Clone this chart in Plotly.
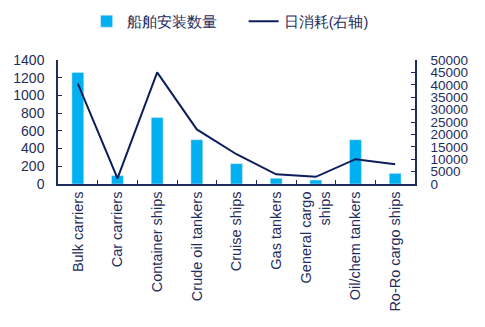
import plotly.graph_objects as go

categories = ["Bulk carriers", "Car carriers", "Container ships", "Crude oil tankers",
              "Cruise ships", "Gas tankers", "General cargo<br>ships", "Oil/chem tankers",
              "Ro-Ro cargo ships"]
installs = [1260, 95, 750, 500, 230, 65, 45, 500, 120]
daily_use = [40500, 2300, 45000, 22000, 12000, 3900, 2900, 10000, 8000]
left_ticks = [0, 200, 400, 600, 800, 1000, 1200, 1400]
right_ticks = [0, 5000, 10000, 15000, 20000, 25000, 30000, 35000, 40000, 45000, 50000]

navy = "#1F2D5C"
fig = go.Figure()
fig.add_trace(go.Bar(x=categories, y=installs, name="船舶安装数量",
                     marker_color="#00B0F0", width=0.3))
fig.add_trace(go.Scatter(x=categories, y=daily_use, name="日消耗(右轴)", yaxis="y2",
                         mode="lines", line=dict(color="#0C1F5C", width=2)))

fig.update_layout(
    width=485, height=327,
    margin=dict(l=58, r=70, t=60, b=143),
    paper_bgcolor="white", plot_bgcolor="white",
    font=dict(family="Liberation Sans, Arial, sans-serif", size=13, color=navy),
    showlegend=True,
    legend=dict(orientation="h", x=0.52, xanchor="center", yref="container", y=0.935,
                yanchor="middle", font=dict(size=14.5, color=navy), traceorder="normal",
                entrywidth=112, entrywidthmode="pixels"),
    bargap=0.7,
    xaxis=dict(type="category", showline=True, linecolor=navy, linewidth=1.5,
               ticks="inside", tickson="boundaries", ticklen=4, tickcolor=navy,
               tickangle=-90, showgrid=False, tickfont=dict(size=14.5, color=navy)),
    yaxis=dict(range=[0, 1400], tickvals=left_ticks, showline=True, linecolor=navy,
               linewidth=1.5, ticks="inside", ticklen=4, tickcolor=navy, showgrid=False,
               zeroline=False, ticklabelstandoff=9,
               tickfont=dict(size=14, color=navy)),
    yaxis2=dict(range=[0, 50000], tickvals=right_ticks,
                ticktext=[str(v) for v in right_ticks], overlaying="y", side="right",
                showline=True, linecolor=navy, linewidth=1.5, ticks="inside", ticklen=4,
                tickcolor=navy, showgrid=False, zeroline=False, ticklabelstandoff=11,
                tickfont=dict(size=13.5, color=navy)),
)
fig.write_html("out.html")
